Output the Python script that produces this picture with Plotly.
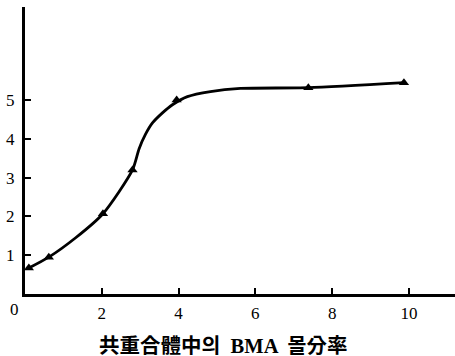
import plotly.graph_objects as go

# measured points (triangles)
px = [0.1, 0.62, 2.03, 2.8, 3.95, 7.38, 9.87]
py = [0.67, 0.95, 2.07, 3.2, 5.0, 5.32, 5.45]

# drawn smooth curve
cx = [0.1, 0.62, 1.32, 2.03, 2.8, 2.97, 3.14, 3.32, 3.58, 3.84, 4.23, 4.83, 5.61, 7.38, 9.87]
cy = [0.67, 0.95, 1.45, 2.07, 3.2, 3.74, 4.12, 4.41, 4.67, 4.88, 5.09, 5.22, 5.30, 5.32, 5.45]

xticks = [2, 4, 6, 8, 10]
yticks = [1, 2, 3, 4, 5]
xlabel = "共重合體中의  BMA  몰分率"

num_font = "Liberation Serif"
title_font = "Liberation Serif, Noto Sans CJK KR"

fig = go.Figure()
fig.add_trace(go.Scatter(x=cx, y=cy, mode="lines",
                         line=dict(color="black", width=2.8, shape="spline", smoothing=0.7),
                         hoverinfo="skip", showlegend=False))
fig.add_trace(go.Scatter(x=px, y=py, mode="markers",
                         marker=dict(symbol="triangle-up", size=9, color="black"),
                         showlegend=False))

fig.update_layout(
    width=455, height=356,
    margin=dict(l=25, r=0, t=7, b=62),
    plot_bgcolor="white", paper_bgcolor="white",
    font=dict(family=num_font, color="black", size=17),
    xaxis=dict(range=[0, 11.2], tickvals=xticks, ticktext=[str(v) for v in xticks],
               ticks="inside", ticklen=6, tickwidth=2, tickcolor="black",
               tickfont=dict(family=num_font, size=17),
               showline=True, linewidth=2.5, linecolor="black", automargin=False,
               showgrid=False, zeroline=False, ticklabelstandoff=2),
    yaxis=dict(range=[0, 7.4], tickvals=yticks, ticktext=[str(v) for v in yticks],
               ticks="inside", ticklen=6, tickwidth=2, tickcolor="black", automargin=False,
               tickfont=dict(family=num_font, size=17),
               showline=True, linewidth=3, linecolor="black",
               showgrid=False, zeroline=False, ticklabelstandoff=4),
)
fig.add_annotation(x=0, y=0, xref="x", yref="y", text="0", showarrow=False,
                   xanchor="right", yanchor="top", xshift=-4, yshift=-4,
                   font=dict(size=17, family=num_font))
fig.add_annotation(x=0.5, y=0, xref="paper", yref="paper", text="<b>" + xlabel + "</b>",
                   showarrow=False, xanchor="center", yanchor="middle", xshift=-17, yshift=-52,
                   font=dict(size=20.5, family=title_font))

fig.write_html("out.html", config={"displayModeBar": False},
               post_script="document.body.style.margin='0';document.body.style.padding='0';")
